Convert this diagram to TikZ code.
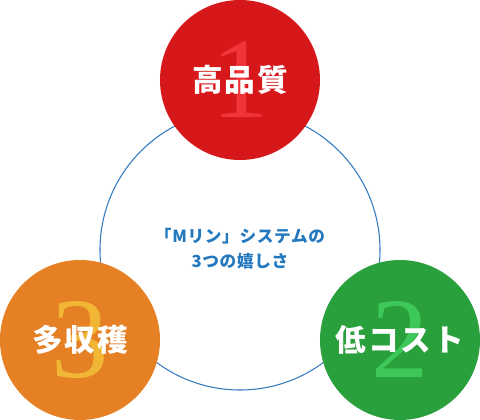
\documentclass[tikz,border=0pt]{standalone}
\usepackage{fontspec}
\setmainfont{Noto Sans CJK JP}
\newfontfamily\numfont{Liberation Serif}
\newfontfamily\labelfont{Noto Sans CJK JP}[LetterSpace=6]
\newfontfamily\themefont{Noto Sans CJK JP}[LetterSpace=4]
\usepackage{tikz}
\definecolor{qred}{RGB}{214,24,27}
\definecolor{qredlt}{RGB}{240,52,56}
\definecolor{qorange}{RGB}{229,128,36}
\definecolor{qyellow}{RGB}{240,182,52}
\definecolor{qgreen}{RGB}{42,160,60}
\definecolor{qgreenlt}{RGB}{62,200,90}
\definecolor{ringblue}{RGB}{52,122,190}
\definecolor{textblue}{RGB}{36,120,190}
\tikzset{
  ring/.style={draw=ringblue,line width=0.8pt},
  disc/.style={circle,minimum size=120pt,inner sep=0pt},
  bignum/.style={font=\numfont\fontsize{86}{86}\selectfont},
  merit/.style={text=white,font=\labelfont\bfseries\fontsize{23}{23}\selectfont},
  title/.style={text=textblue,align=center,font=\themefont\bfseries\fontsize{12.5}{19}\selectfont}
}
\begin{document}
\begin{tikzpicture}[x=0.75pt,y=-0.75pt]
  \useasboundingbox (0,0) rectangle (480,420);
  % ring behind the three discs
  \draw[ring] (240,250) circle[radius=140];
  \node[title] (theme) at (240,249) {「Mリン」システムの\\3つの嬉しさ};
  % quality
  \node[disc,fill=qred] (quality) at (240,80) {};
  \node[bignum,text=qredlt] (one) at (quality) {1};
  \node[merit] at (quality) {高品質};
  % cost
  \node[disc,fill=qgreen] (cost) at (400,340) {};
  \node[bignum,text=qgreenlt] (two) at (cost) {2};
  \node[merit] at (cost) {低コスト};
  % yield
  \node[disc,fill=qorange] (yield) at (80,340) {};
  \node[bignum,text=qyellow] (three) at (yield) {3};
  \node[merit] at (yield) {多収穫};
\end{tikzpicture}
\end{document}
